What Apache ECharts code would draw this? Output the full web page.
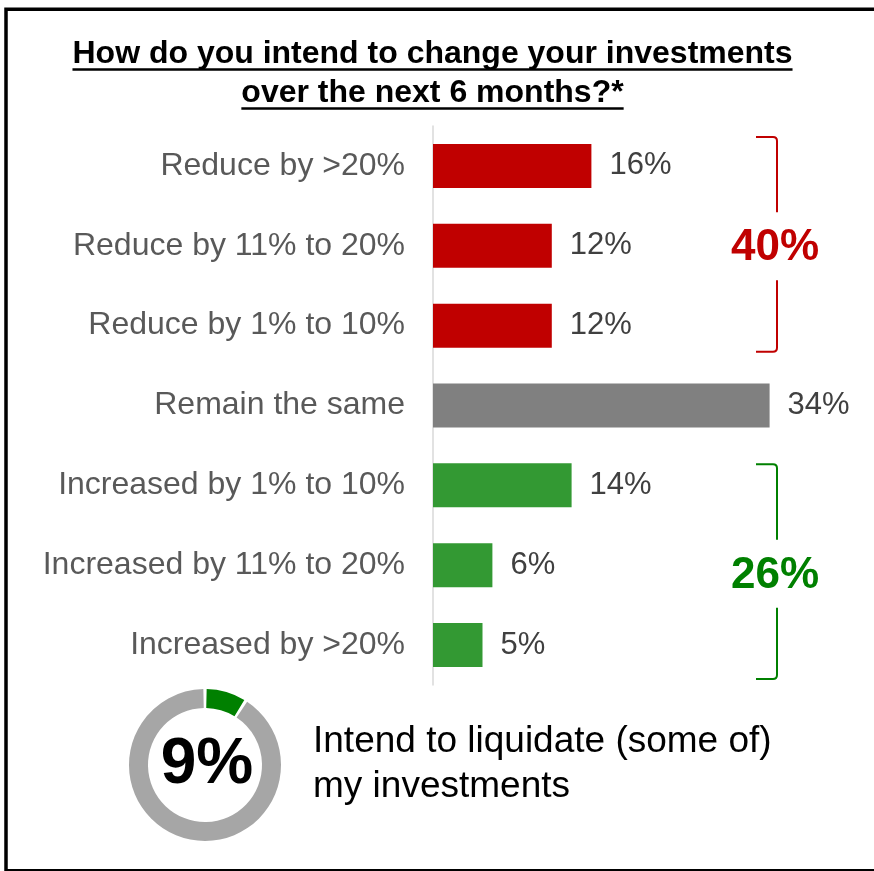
<!DOCTYPE html>
<html>
<head>
<meta charset="utf-8">
<title>Investment intentions</title>
<script src="https://cdn.jsdelivr.net/npm/echarts@6/dist/echarts.min.js"></script>
<style>
  html, body { margin: 0; padding: 0; background: #fff; }
  #chart { width: 874px; height: 871px; }
</style>
</head>
<body>
<div id="chart"></div>
<script>
// ---- data ----
const titleLines = ['How do you intend to change your investments', 'over the next 6 months?*'];
const categories = [
  'Reduce by >20%',
  'Reduce by 11% to 20%',
  'Reduce by 1% to 10%',
  'Remain the same',
  'Increased by 1% to 10%',
  'Increased by 11% to 20%',
  'Increased by >20%'
];
const shares = [16, 12, 12, 34, 14, 6, 5];
const groupRanges = [[0, 2], [4, 6]];   // first and last category of each bracket
const groupTotals = [40, 26];           // net share per bracket
const liquidateShare = 9;
const liquidateLines = ['Intend to liquidate (some of)', 'my investments'];

// ---- styles ----
const FONT = "'Liberation Sans', Arial, Helvetica, sans-serif";
const barColors = ['#c00000', '#c00000', '#c00000', '#808080', '#339933', '#339933', '#339933'];
const groupColors = ['#c00000', '#008000'];
const groupPads = [[29, 26], [21, 34]]; // bracket overhang above / below the outer bar centres
const ringColors = ['#008000', '#a6a6a6'];

const measureCtx = document.createElement('canvas').getContext('2d');
function textWidth(text, font) {
  measureCtx.font = font;
  return measureCtx.measureText(text).width;
}

const titleFont = 'bold 32px ' + FONT;
const titleCx = 432.5;
const titleYs = [54, 93];
const titleGraphics = [];
titleLines.forEach((line, i) => {
  const w = textWidth(line, titleFont);
  titleGraphics.push({
    type: 'text',
    silent: true,
    style: {
      text: line, x: titleCx, y: titleYs[i],
      font: titleFont, fill: '#000',
      textAlign: 'center', textVerticalAlign: 'middle', verticalAlign: 'middle'
    }
  });
  titleGraphics.push({
    type: 'line',
    silent: true,
    shape: { x1: titleCx - w / 2, y1: titleYs[i] + 15.5, x2: titleCx + w / 2, y2: titleYs[i] + 15.5 },
    style: { stroke: '#000', lineWidth: 2.5 }
  });
});

const liquidateGraphics = liquidateLines.map((line, i) => ({
  type: 'text',
  silent: true,
  style: {
    text: line, x: 313, y: 742 + i * 45,
    font: '37px ' + FONT, fill: '#000',
    textAlign: 'left', textVerticalAlign: 'middle', verticalAlign: 'middle'
  }
}));

// bracket with a label breaking the vertical stroke
function renderBracket(params, api) {
  const idx = params.dataIndex;
  const from = api.value(0), to = api.value(1), total = api.value(2);
  const cs = params.coordSys;
  const xr = cs.x + cs.width - 52;   // vertical stroke
  const xl = xr - 21;                // end of the arms
  const pads = groupPads[idx];
  const y0 = api.coord([0, from])[1] - pads[0];
  const y1 = api.coord([0, to])[1] + pads[1];
  const mid = (y0 + y1) / 2 + 2;
  const gap = 34;
  const r = 4;
  const color = groupColors[idx];
  const upper = `M ${xl} ${y0} L ${xr - r} ${y0} Q ${xr} ${y0} ${xr} ${y0 + r} L ${xr} ${mid - gap}`;
  const lower = `M ${xr} ${mid + gap} L ${xr} ${y1 - r} Q ${xr} ${y1} ${xr - r} ${y1} L ${xl} ${y1}`;
  return {
    type: 'group',
    children: [
      { type: 'path', shape: { pathData: upper }, style: { stroke: color, lineWidth: 2, fill: null } },
      { type: 'path', shape: { pathData: lower }, style: { stroke: color, lineWidth: 2, fill: null } },
      {
        type: 'text',
        style: {
          text: total + '%', x: xr - 2, y: mid + 2,
          font: 'bold 44px ' + FONT, fill: color,
          textAlign: 'center', textVerticalAlign: 'middle', verticalAlign: 'middle'
        }
      }
    ]
  };
}

const chart = echarts.init(document.getElementById('chart'));
chart.setOption({
  animation: false,
  backgroundColor: '#fff',
  grid: { left: 433, top: 126, width: 396, height: 559, containLabel: false },
  xAxis: { type: 'value', min: 0, max: 40, show: false },
  yAxis: {
    type: 'category',
    data: categories,
    inverse: true,
    axisLine: { show: true, lineStyle: { color: '#d9d9d9', width: 1.5 } },
    axisTick: { show: false },
    splitLine: { show: false },
    axisLabel: { color: '#595959', fontSize: 32, fontFamily: FONT, margin: 28, padding: [5, 0, 0, 0] }
  },
  series: [
    {
      type: 'bar',
      barWidth: 44,
      data: shares.map((v, i) => ({ value: v, itemStyle: { color: barColors[i] } })),
      label: {
        show: true, position: 'right', distance: 18, padding: [5, 0, 0, 0],
        formatter: '{c}%', color: '#404040', fontSize: 31, fontFamily: FONT
      },
      emphasis: { disabled: true },
      silent: true
    },
    {
      type: 'custom',
      renderItem: renderBracket,
      clip: false,
      silent: true,
      encode: { x: 2, y: [0, 1] },
      data: groupRanges.map((r, i) => [r[0], r[1], groupTotals[i]])
    },
    {
      type: 'pie',
      center: [205, 765],
      radius: [57, 76],
      startAngle: 90,
      clockwise: true,
      padAngle: 2.5,
      silent: true,
      emphasis: { disabled: true },
      labelLine: { show: false },
      label: { show: false },
      data: [
        {
          value: liquidateShare,
          itemStyle: { color: ringColors[0] },
          label: {
            show: true, position: 'center', formatter: '{c}%',
            fontSize: 64, fontWeight: 'bold', color: '#000', fontFamily: FONT,
            padding: [4, 0, 0, 4]
          }
        },
        { value: 100 - liquidateShare, itemStyle: { color: ringColors[1] } }
      ]
    }
  ],
  graphic: [
    {
      type: 'rect',
      silent: true,
      shape: { x: 6, y: 9.3, width: 900, height: 861.5 },
      style: { fill: null, stroke: '#000', lineWidth: 3.5 }
    },
    ...titleGraphics,
    ...liquidateGraphics
  ]
});
</script>
</body>
</html>
